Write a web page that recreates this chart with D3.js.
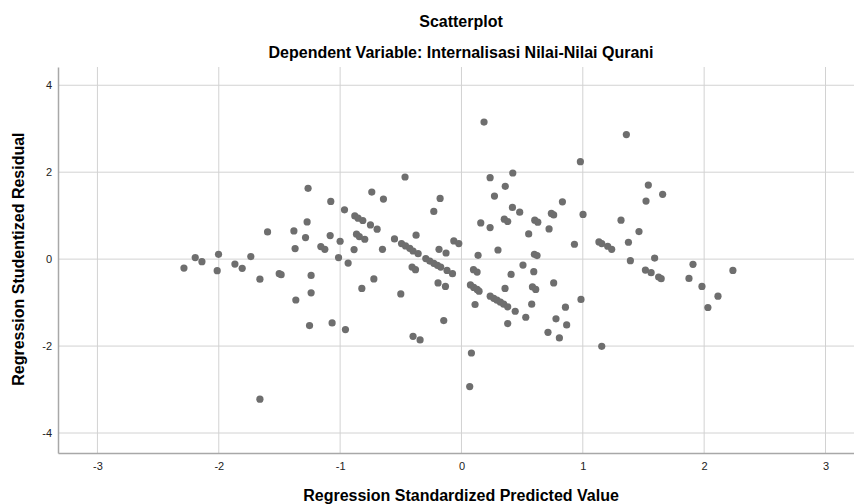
<!DOCTYPE html>
<html>
<head>
<meta charset="utf-8">
<script src="https://cdn.jsdelivr.net/npm/d3@7"></script>
<style>
  body { margin: 0; background: #fff; }
  svg { display: block; font-family: "Liberation Sans", Arial, sans-serif; }
</style>
</head>
<body>
<div id="chart"></div>
<script>
// chart text
const title = "Scatterplot";
const subtitle = "Dependent Variable: Internalisasi Nilai-Nilai Qurani";
const xLabel = "Regression Standardized Predicted Value";
const yLabel = "Regression Studentized Residual";

// tick values
const xTicks = [-3, -2, -1, 0, 1, 2, 3];
const yTicks = [-4, -2, 0, 2, 4];

// predicted values (x) and studentized residuals (y)
const predicted = [
  -1.264, -1.077, -0.964, -0.879, -0.852, -0.813, -0.750, -0.695, -0.739, -1.272,
  -1.598, -1.381, -1.285, -1.082, -1.000, -0.865, -0.842, -0.797, -1.371, -1.159,
  -1.126, -0.885, -1.013, -0.934, -2.194, -2.139, -2.287, -2.002, -2.013, -1.867,
  -1.807, -1.736, -1.661, -1.502, -1.486, -1.239, -1.239, -1.365, -0.821, -1.252,
  -1.066, -0.956, -1.661, 0.186, -0.465, 0.236, 0.423, 0.361, -0.643, -0.176,
  0.272, -0.228, 0.420, 0.480, 0.159, 0.236, 0.353, 0.381, -0.552, -0.374,
  -0.494, -0.461, -0.426, -0.399, -0.357, -0.063, -0.022, -0.651, -0.185, -0.127,
  0.137, 0.301, -0.294, -0.261, -0.228, -0.198, -0.171, -0.119, -0.074, -0.407,
  -0.379, 0.099, 0.129, 0.409, -0.722, -0.193, -0.132, -0.500, 0.359, 0.074,
  0.101, 0.129, 0.145, 0.237, 0.266, 0.293, 0.321, 0.348, 0.381, 0.112,
  0.443, 0.381, -0.146, -0.399, -0.341, 0.082, 0.068, 1.359, 0.980, 1.540,
  1.658, 1.521, 0.832, 0.741, 0.760, 0.604, 0.629, 1.002, 1.315, 0.722,
  0.554, 1.463, 1.376, 0.931, 1.133, 1.156, 1.205, 1.238, 0.601, 0.623,
  1.392, 1.592, 0.507, 0.596, 1.516, 1.563, 1.625, 1.646, 0.760, 0.585,
  0.612, 0.579, 0.857, 0.985, 0.530, 0.779, 0.867, 0.713, 0.807, 1.156,
  1.908, 1.875, 1.982, 2.237, 2.114, 2.031
];
const residual = [
  1.628, 1.328, 1.134, 0.995, 0.942, 0.889, 0.788, 0.688, 1.543, 0.857,
  0.626, 0.649, 0.497, 0.543, 0.411, 0.573, 0.520, 0.457, 0.242, 0.289,
  0.226, 0.219, 0.035, -0.090, 0.035, -0.058, -0.206, 0.111, -0.266, -0.113,
  -0.212, 0.058, -0.460, -0.335, -0.358, -0.374, -0.774, -0.940, -0.674, -1.529,
  -1.467, -1.621, -3.222, 3.152, 1.889, 1.873, 1.982, 1.674, 1.381, 1.397,
  1.450, 1.097, 1.189, 1.081, 0.834, 0.727, 0.919, 0.866, 0.464, 0.550,
  0.358, 0.303, 0.249, 0.187, 0.127, 0.418, 0.358, 0.226, 0.226, 0.141,
  0.088, 0.210, 0.012, -0.044, -0.097, -0.143, -0.182, -0.259, -0.335, -0.182,
  -0.242, -0.242, -0.298, -0.351, -0.455, -0.547, -0.628, -0.801, -0.674, -0.594,
  -0.651, -0.697, -0.737, -0.852, -0.901, -0.945, -0.991, -1.037, -1.097, -1.044,
  -1.199, -1.483, -1.413, -1.776, -1.859, -2.159, -2.931, 2.866, 2.243, 1.704,
  1.490, 1.335, 1.319, 1.051, 1.018, 0.896, 0.850, 1.028, 0.896, 0.695,
  0.580, 0.635, 0.388, 0.342, 0.395, 0.358, 0.296, 0.226, 0.111, 0.081,
  -0.035, 0.025, -0.136, -0.289, -0.252, -0.312, -0.413, -0.450, -0.547, -0.640,
  -0.697, -1.037, -1.106, -0.928, -1.337, -1.374, -1.513, -1.684, -1.813, -2.007,
  -0.120, -0.443, -0.628, -0.259, -0.852, -1.113
];

// layout
const w = 854;
const h = 504;
const margin = { top: 67, right: 0, bottom: 51, left: 58 };

const svg = d3.select("#chart").append("svg")
  .attr("width", w)
  .attr("height", h);

// scales
const xScale = d3.scaleLinear()
  .domain([-3.325, 3.235])
  .range([margin.left, w - margin.right]);
const yScale = d3.scaleLinear()
  .domain([-4.46, 4.42])
  .range([h - margin.bottom, margin.top]);

// grid lines
svg.append("g")
  .selectAll("line")
  .data(xTicks)
  .join("line")
  .attr("x1", d => xScale(d)).attr("x2", d => xScale(d))
  .attr("y1", margin.top).attr("y2", h - margin.bottom)
  .attr("stroke", "#d2d2d2")
  .attr("stroke-width", 1);

svg.append("g")
  .selectAll("line")
  .data(yTicks)
  .join("line")
  .attr("x1", margin.left).attr("x2", w - margin.right)
  .attr("y1", d => yScale(d)).attr("y2", d => yScale(d))
  .attr("stroke", "#d2d2d2")
  .attr("stroke-width", 1);

// axes (plain hyphen minus like the original)
const fmt = d => String(d);
const xAxis = d3.axisBottom(xScale).tickValues(xTicks).tickFormat(fmt).tickSize(0).tickPadding(9);
const yAxis = d3.axisLeft(yScale).tickValues(yTicks).tickFormat(fmt).tickSize(0).tickPadding(6);

const gx = svg.append("g")
  .attr("transform", "translate(0," + (h - margin.bottom) + ")")
  .call(xAxis);
const gy = svg.append("g")
  .attr("transform", "translate(" + margin.left + ",0)")
  .call(yAxis);

[gx, gy].forEach(g => {
  g.select(".domain").attr("stroke", "#a8a8a8").attr("stroke-width", 1.5);
  g.selectAll("text")
    .attr("fill", "#222")
    .style("font-size", "11px")
    .style("font-family", "'Liberation Sans', Arial, sans-serif");
});

// points
svg.append("g")
  .selectAll("circle")
  .data(predicted.map((x, i) => [x, residual[i]]))
  .join("circle")
  .attr("cx", d => xScale(d[0]))
  .attr("cy", d => yScale(d[1]))
  .attr("r", 3.6)
  .attr("fill", "#6e6e6e");

// titles
const labelSize = "16px";

svg.append("text")
  .attr("x", 461).attr("y", 27)
  .attr("text-anchor", "middle")
  .style("font-size", labelSize).style("font-weight", "bold")
  .text(title);

svg.append("text")
  .attr("x", 461).attr("y", 58)
  .attr("text-anchor", "middle")
  .style("font-size", labelSize).style("font-weight", "bold")
  .text(subtitle);

svg.append("text")
  .attr("x", 461).attr("y", 501)
  .attr("text-anchor", "middle")
  .style("font-size", labelSize).style("font-weight", "bold")
  .text(xLabel);

svg.append("text")
  .attr("transform", "translate(24," + yScale(0) + ") rotate(-90)")
  .attr("text-anchor", "middle")
  .style("font-size", labelSize).style("font-weight", "bold")
  .text(yLabel);
</script>
</body>
</html>
